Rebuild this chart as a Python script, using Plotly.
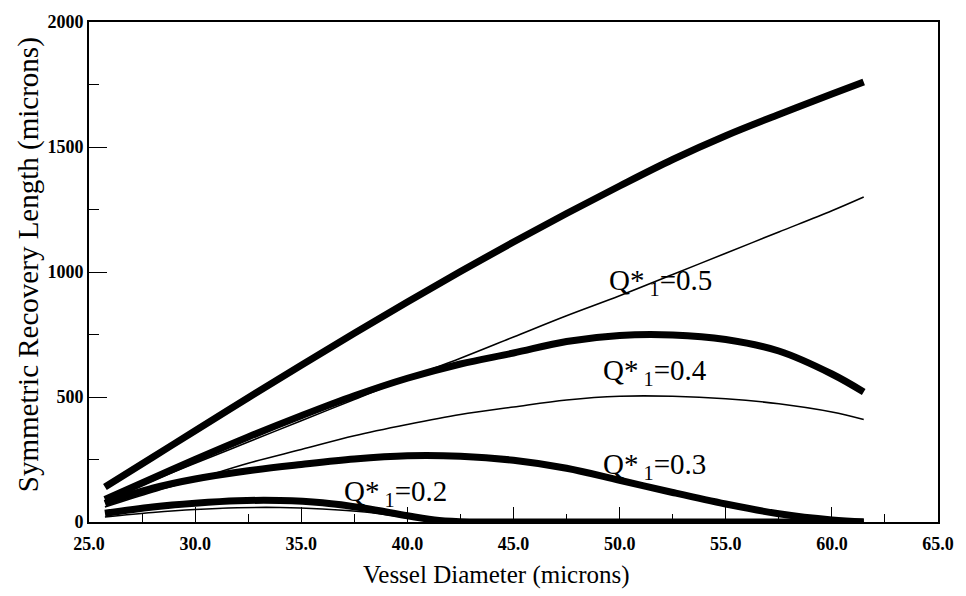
import plotly.graph_objects as go

# Vessel diameter (microns) sample points for each curve
d_05 = [25.75, 28, 30, 32.5, 35, 37.5, 40, 42.5, 45, 47.5, 50, 52.5, 55, 57.5, 60, 61.5]
len_05_thick = [140, 259, 365, 497, 627, 755, 880, 1002, 1120, 1234, 1344, 1450, 1545, 1630, 1712, 1760]
len_05_thin = [80, 165, 235, 320, 405, 490, 575, 655, 740, 825, 905, 990, 1075, 1160, 1245, 1300]

d_04 = [25.75, 28, 30, 32.5, 35, 37.5, 40, 42.5, 45, 47.5, 50, 52.5, 55, 57.5, 60, 61.5]
len_04_thick = [90, 175, 250, 340, 425, 505, 575, 632, 676, 722, 746, 748, 730, 684, 592, 520]
len_04_thin = [60, 120, 170, 235, 290, 345, 390, 430, 460, 488, 503, 503, 493, 473, 440, 410]

d_03 = [25.75, 28, 30, 32.5, 35, 37.5, 40, 42.5, 45, 47.5, 50, 52.5, 55, 57.5, 60, 61.5]
len_03_thick = [75, 135, 172, 205, 230, 252, 265, 263, 247, 215, 167, 118, 72, 33, 8, 0]

d_02 = [25.75, 28, 30, 32, 34, 36, 38, 40, 41.5, 43, 45, 50, 55, 60, 61.5]
len_02_thick = [35, 60, 75, 85, 86, 77, 55, 25, 6, 0, 0, 0, 0, 0, 0]
len_02_thin = [20, 38, 50, 57, 58, 52, 40, 18, 4, 0, 0, 0, 0, 0, 0]

labels = ["Q*<sub> 1</sub>=0.5", "Q*<sub> 1</sub>=0.4", "Q*<sub> 1</sub>=0.3", "Q*<sub> 1</sub>=0.2"]
label_x = [49.4, 49.1, 49.1, 36.9]
label_y = [962, 600, 224, 118]

THICK = 7
THIN = 1.6
INK = "black"

fig = go.Figure()

curves = [
    (d_05, len_05_thin, THIN),
    (d_04, len_04_thin, THIN),
    (d_02, len_02_thin, THIN),
    (d_05, len_05_thick, THICK),
    (d_04, len_04_thick, THICK),
    (d_03, len_03_thick, THICK),
    (d_02, len_02_thick, THICK),
]
for xs, ys, w in curves:
    fig.add_trace(go.Scatter(
        x=xs, y=ys, mode="lines",
        line=dict(color=INK, width=w, shape="spline", smoothing=1.0),
        hoverinfo="skip", showlegend=False,
    ))

for txt, lx, ly in zip(labels, label_x, label_y):
    fig.add_annotation(
        x=lx, y=ly, text=txt, showarrow=False,
        xanchor="left", yanchor="middle",
        font=dict(family="Liberation Serif", size=29, color=INK),
    )

plot_l, plot_r, plot_t, plot_b = 89, 18, 21, 74
plot_w = 966 - plot_l - plot_r
plot_h = 596 - plot_t - plot_b

# Axis titles placed as paper-anchored text
fig.add_annotation(
    xref="paper", yref="paper",
    x=(501 - plot_l) / plot_w, y=(596 - plot_b - 575) / plot_h,
    text="Vessel Diameter (microns)",
    showarrow=False, xanchor="center", yanchor="middle",
    font=dict(family="Liberation Serif", size=25, color=INK),
)
fig.add_annotation(
    xref="paper", yref="paper",
    x=(28 - plot_l) / plot_w, y=(596 - plot_b - 264) / plot_h,
    text="Symmetric Recovery Length (microns)", textangle=-90,
    showarrow=False, xanchor="center", yanchor="middle",
    font=dict(family="Liberation Serif", size=29, color=INK),
)

axis_font = dict(family="Liberation Serif", size=18, color=INK, weight="bold")

fig.update_layout(
    width=966, height=596,
    margin=dict(l=plot_l, r=plot_r, t=plot_t, b=plot_b),
    paper_bgcolor="white", plot_bgcolor="white",
    font=dict(family="Liberation Serif", color=INK),
    xaxis=dict(
        range=[25, 65], dtick=5, tick0=25, tickformat=".1f",
        ticks="inside", ticklen=15, tickwidth=1.2, tickcolor=INK,
        minor=dict(dtick=2.5, ticks="inside", ticklen=8, tickwidth=1, tickcolor=INK),
        showline=True, linecolor=INK, linewidth=2, mirror=True,
        showgrid=False, zeroline=False, tickfont=axis_font,
        ticklabelstandoff=4,
    ),
    yaxis=dict(
        range=[0, 2000], dtick=500, tick0=0,
        ticks="inside", ticklen=18, tickwidth=1.2, tickcolor=INK,
        minor=dict(dtick=250, ticks="inside", ticklen=10, tickwidth=1, tickcolor=INK),
        showline=True, linecolor=INK, linewidth=2, mirror=True,
        showgrid=False, zeroline=False, tickfont=axis_font,
    ),
)

fig.write_html("out.html")
